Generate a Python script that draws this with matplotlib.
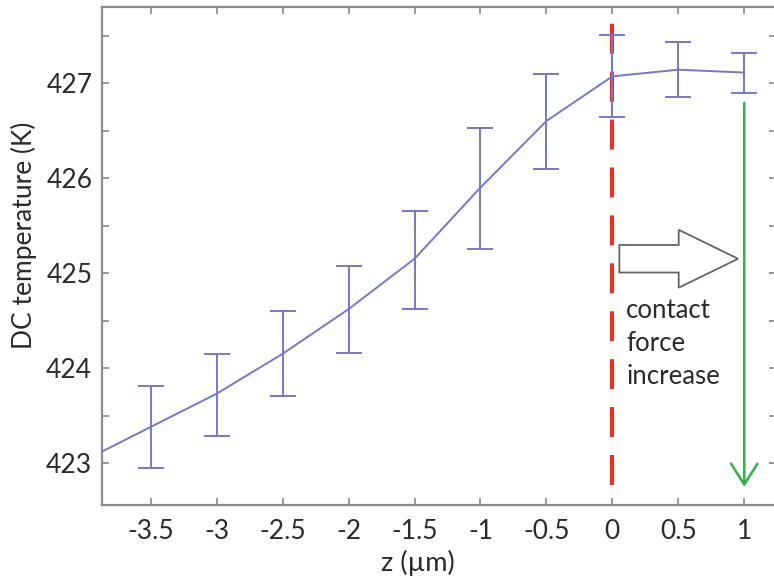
import numpy as np
import matplotlib
matplotlib.use("Agg")
import matplotlib.pyplot as plt
from matplotlib.patches import FancyArrow
from matplotlib.ticker import MultipleLocator

plt.rcParams['font.family'] = ['Lato', 'DejaVu Sans']

# measured points (z in um, DC temperature in K)
z = [-3.5, -3.0, -2.5, -2.0, -1.5, -1.0, -0.5, 0.0, 0.5, 1.0]
temp = [423.38, 423.73, 424.15, 424.62, 425.15, 425.9, 426.6, 427.07, 427.14, 427.11]
err_hi = [423.81, 424.15, 424.60, 425.07, 425.65, 426.53, 427.09, 427.51, 427.43, 427.32]
err_lo = [422.95, 423.28, 423.71, 424.16, 424.62, 425.25, 426.10, 426.64, 426.85, 426.90]

# fitted curve drawn through the points, starting off the left edge
line_z = [-4.0] + z
line_temp = [423.03] + temp

xticks = [-3.5, -3, -2.5, -2, -1.5, -1, -0.5, 0, 0.5, 1]
xticklabels = ['-3.5', '-3', '-2.5', '-2', '-1.5', '-1', '-0.5', '0', '0.5', '1']
yticks = [423, 424, 425, 426, 427]

blue = '#7479c9'
grey = '#8a8a8a'
txt = '#2b2b2b'

fig = plt.figure(figsize=(7.74, 5.81), dpi=100)
ax = fig.add_axes([102 / 774, 1 - 505 / 581, 673.5 / 774, 498 / 581])

ax.plot(line_z, line_temp, color=blue, lw=1.4, zorder=3)
lower = np.array(temp) - np.array(err_lo)
upper = np.array(err_hi) - np.array(temp)
ax.errorbar(z, temp, yerr=[lower, upper], fmt='none', ecolor=blue,
            elinewidth=1.4, capsize=9.5, capthick=1.4, zorder=3)

# contact point and indentation
ax.plot([0, 0], [422.77, 427.8], color='#e8322b', lw=3,
        dashes=(7.2, 4.3), zorder=1.5)
ax.annotate('', xy=(1.0, 422.72), xytext=(1.0, 426.82),
            arrowprops=dict(arrowstyle='->,head_length=1.5,head_width=0.95',
                            color='#2db34a', lw=1.8))
ax.add_patch(FancyArrow(0.053, 425.15, 0.90, 0, width=0.29, head_width=0.61,
                        head_length=0.45, length_includes_head=True,
                        facecolor='white', edgecolor='#666666', lw=1.3,
                        zorder=4))
ax.text(0.105, 424.74, 'contact\nforce\nincrease', fontsize=18.5, color=txt,
        va='top', ha='left', linespacing=1.4)

ax.set_xlim(-3.87, 1.237)
ax.set_ylim(422.558, 427.8)
ax.set_xticks(xticks)
ax.set_xticklabels(xticklabels)
ax.set_yticks(yticks)
ax.yaxis.set_minor_locator(MultipleLocator(0.5))
ax.tick_params(which='both', direction='in', top=True, right=True,
               color=grey, width=1.2, length=5, labelsize=19,
               labelcolor=txt, pad=7)
ax.tick_params(axis='x', pad=10)
for s in ax.spines.values():
    s.set_color(grey)
    s.set_linewidth(1.6)

ax.set_xlabel('z (µm)', fontsize=19.5, color=txt)
ax.set_ylabel('DC temperature (K)', fontsize=19, color=txt)
ax.xaxis.set_label_coords(0.469, -0.09)
ax.yaxis.set_label_coords(-0.097, 0.542)

fig.savefig('out.png', dpi=100)
